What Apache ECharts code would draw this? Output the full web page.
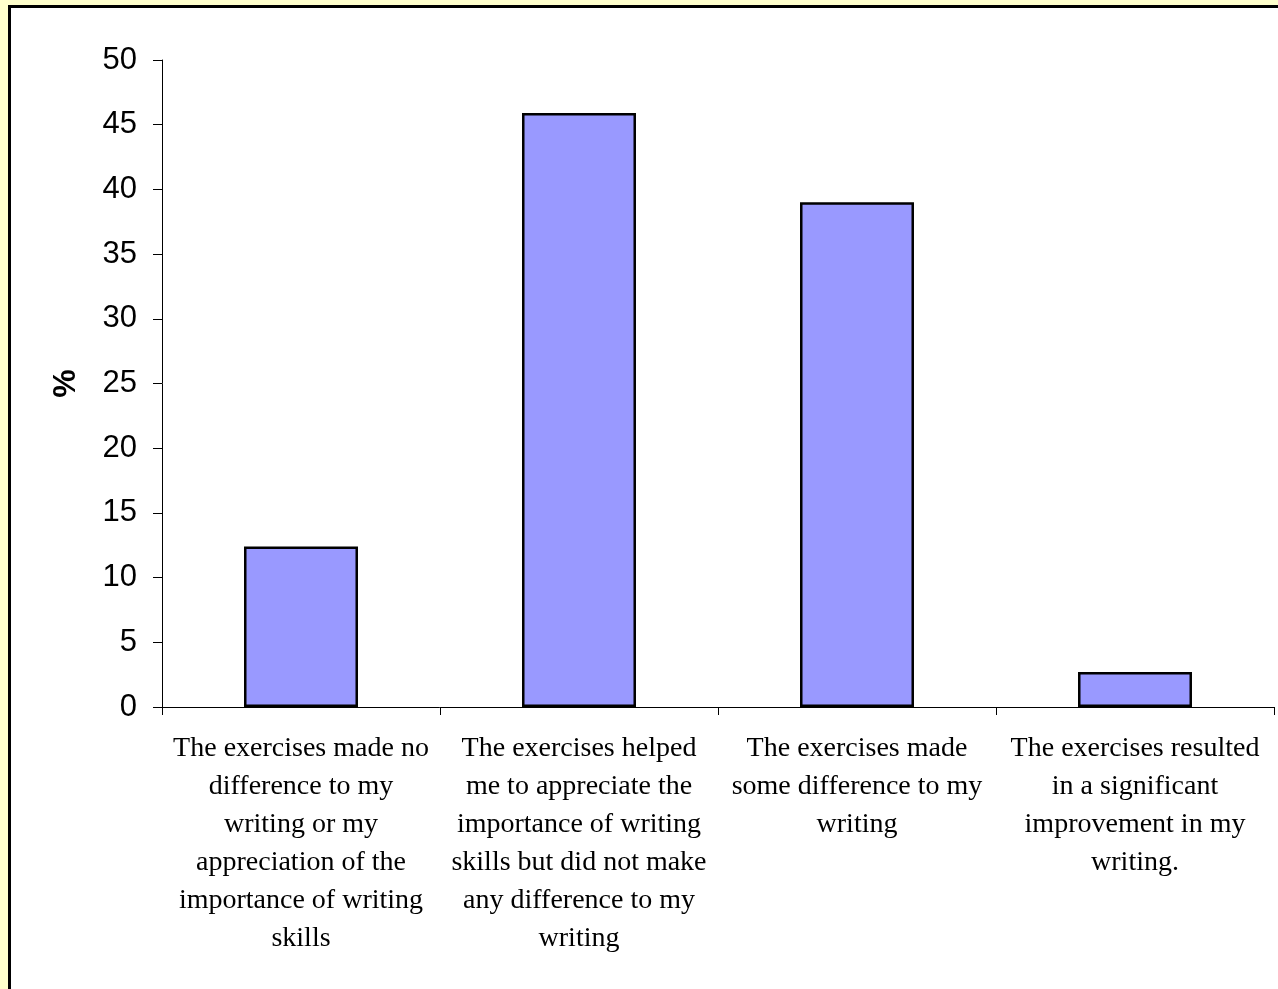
<!DOCTYPE html>
<html>
<head>
<meta charset="utf-8">
<style>
  html, body { margin: 0; padding: 0; background: #FFFFCC; }
  #chart { width: 1278px; height: 989px; }
</style>
<script src="https://cdn.jsdelivr.net/npm/echarts@6/dist/echarts.min.js"></script>
</head>
<body>
<div id="chart"></div>
<script>
// Survey responses (categories wrapped the way they are printed under the axis)
const categories = [
  'The exercises made no\ndifference to my\nwriting or my\nappreciation of the\nimportance of writing\nskills',
  'The exercises helped\nme to appreciate the\nimportance of writing\nskills but did not make\nany difference to my\nwriting',
  'The exercises made\nsome difference to my\nwriting',
  'The exercises resulted\nin a significant\nimprovement in my\nwriting.'
];
const percentages = [12.4, 45.9, 39.0, 2.7];
const yTicks = { min: 0, max: 50, interval: 5 };
const yAxisName = '%';

const chart = echarts.init(document.getElementById('chart'), null, { renderer: 'canvas' });

chart.setOption({
  backgroundColor: '#FFFFCC',
  animation: false,
  graphic: [{
    type: 'rect',
    z: -10,
    silent: true,
    shape: { x: 9.5, y: 6.5, width: 1300, height: 1000 },
    style: { fill: '#FFFFFF', stroke: '#000000', lineWidth: 3 }
  }],
  grid: { left: 162, top: 60, right: 4, bottom: 282, containLabel: false },
  xAxis: {
    type: 'category',
    data: categories,
    axisLine: { lineStyle: { color: '#000', width: 1 } },
    axisTick: { show: true, alignWithLabel: false, length: 8, lineStyle: { color: '#000' } },
    axisLabel: {
      interval: 0,
      margin: 23,
      color: '#000',
      fontFamily: 'Liberation Serif',
      fontSize: 28,
      lineHeight: 38,
      align: 'center'
    },
    splitLine: { show: false }
  },
  yAxis: {
    type: 'value',
    min: yTicks.min,
    max: yTicks.max,
    interval: yTicks.interval,
    name: yAxisName,
    nameLocation: 'middle',
    nameGap: 80,
    nameRotate: 90,
    nameTextStyle: { fontFamily: 'Liberation Sans', fontWeight: 'bold', fontSize: 32, color: '#000' },
    axisLine: { show: true, lineStyle: { color: '#000', width: 1 } },
    axisTick: { show: true, length: 9, lineStyle: { color: '#000' } },
    axisLabel: { margin: 25, color: '#000', fontFamily: 'Liberation Sans', fontSize: 31 },
    splitLine: { show: false }
  },
  series: [{
    type: 'bar',
    data: percentages,
    barWidth: '41%',
    itemStyle: { color: '#9999FF', borderColor: '#000', borderWidth: 2.5 }
  }]
});
</script>
</body>
</html>
